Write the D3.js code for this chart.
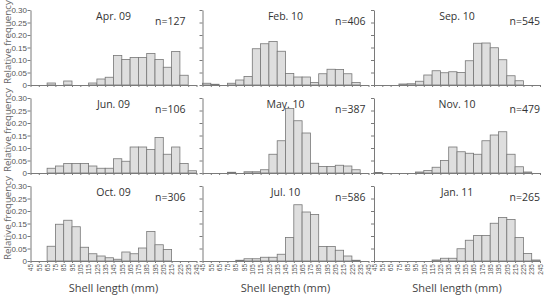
<!DOCTYPE html>
<html><head><meta charset="utf-8">
<script src="https://cdn.jsdelivr.net/npm/d3@7"></script>
<style>body{margin:0;background:#fff}svg{display:block;font-family:"Open Sans",sans-serif}</style>
</head><body><svg id="c" width="546" height="297"></svg>
<script>
// ---- data ----
const binEdges = [45,55,65,75,85,95,105,115,125,135,145,155,165,175,185,195,205,215,225,235,245];
const yTicks = [0,0.05,0.10,0.15,0.20,0.25,0.30];
const panelNames = ["Apr. 09","Feb. 10","Sep. 10","Jun. 09","May. 10","Nov. 10","Oct. 09","Jul. 10","Jan. 11"];
const panelN = [127,406,545,106,387,479,306,586,265];
const freqApr09 = [0,0,0.008,0,0.016,0,0,0.008,0.024,0.031,0.118,0.102,0.110,0.110,0.126,0.102,0.071,0.134,0.039,0];
const freqFeb10 = [0.007,0.003,0,0.007,0.020,0.034,0.145,0.165,0.174,0.135,0.046,0.032,0.032,0.010,0.045,0.063,0.062,0.045,0.010,0];
const freqSep10 = [0,0,0,0.004,0.005,0.015,0.040,0.057,0.049,0.053,0.050,0.097,0.167,0.168,0.149,0.101,0.037,0.017,0,0];
const freqJun09 = [0,0,0.019,0.028,0.038,0.038,0.038,0.028,0.019,0.019,0.057,0.047,0.104,0.104,0.094,0.142,0.075,0.104,0.038,0.009];
const freqMay10 = [0,0,0,0.003,0,0.005,0.005,0.013,0.075,0.129,0.258,0.209,0.160,0.039,0.026,0.026,0.031,0.028,0.013,0];
const freqNov10 = [0.002,0,0,0,0,0.004,0.010,0.023,0.050,0.104,0.085,0.079,0.075,0.129,0.152,0.165,0.075,0.025,0.004,0];
const freqOct09 = [0,0,0.059,0.147,0.163,0.137,0.055,0.029,0.020,0.013,0.007,0.036,0.029,0.052,0.118,0.065,0.046,0,0,0];
const freqJul10 = [0,0,0,0,0.003,0.009,0.009,0.015,0.015,0.027,0.094,0.225,0.196,0.186,0.058,0.058,0.043,0.020,0.003,0];
const freqJan11 = [0,0,0,0,0,0,0,0.004,0.011,0.011,0.049,0.083,0.102,0.102,0.151,0.174,0.166,0.094,0.030,0.004];
const panelFreq = [freqApr09,freqFeb10,freqSep10,freqJun09,freqMay10,freqNov10,freqOct09,freqJul10,freqJan11];

// ---- layout ----
const colX = [30.5, 202.5, 374];
const rowTop = [10, 98, 186];
const pw = 166, ph = 75;
const nRight = [155, 163, 166];

const svg = d3.select("#c");
const x = d3.scaleLinear().domain([45,245]).range([0,pw]);
const y = d3.scaleLinear().domain([0,0.30]).range([ph,0]);
const axisCol = "#7a7a7a";

panelNames.forEach((name,i)=>{
  const r = Math.floor(i/3), c = i%3;
  const g = svg.append("g").attr("transform",`translate(${colX[c]},${rowTop[r]})`);
  const bins = panelFreq[i].map((v,k)=>({x0:binEdges[k],x1:binEdges[k+1],v}));
  g.selectAll("rect").data(bins.filter(d=>d.v>0)).join("rect")
    .attr("x",d=>x(d.x0)).attr("width",d=>x(d.x1)-x(d.x0))
    .attr("y",d=>y(d.v)).attr("height",d=>ph-y(d.v))
    .attr("fill","#dedede").attr("stroke","#777").attr("stroke-width",0.8);

  // y axis
  const ya = d3.axisLeft(y).tickValues(yTicks).tickSize(3).tickSizeOuter(0)
    .tickFormat(c===0 ? (d=>d===0?"0":d3.format(".2f")(d)) : "");
  const yg = g.append("g").call(ya);
  yg.select(".domain").attr("stroke",axisCol);
  yg.selectAll(".tick line").attr("stroke",axisCol);
  yg.selectAll("text").attr("fill","#555").style("font-size","8px").attr("x",-3.5);

  // x axis
  const xa = d3.axisBottom(x).tickValues(binEdges).tickSize(2).tickSizeOuter(0)
    .tickFormat(r===2 ? d3.format("d") : "");
  const xg = g.append("g").attr("transform",`translate(0,${ph})`).call(xa);
  xg.select(".domain").attr("stroke",axisCol);
  xg.selectAll(".tick line").attr("stroke",axisCol);
  xg.selectAll("text").attr("fill","#555").style("font-size","6.5px")
    .attr("transform","rotate(-90)").attr("text-anchor","end")
    .attr("x",-3).attr("y",0).attr("dy","0.35em");

  g.append("text").attr("x",pw/2).attr("y",9.5).attr("text-anchor","middle")
    .style("font-size","10.5px").attr("fill","#333").text(name);
  g.append("text").attr("x",nRight[c]).attr("y",14.5).attr("text-anchor","end")
    .style("font-size","10.5px").attr("fill","#333").text("n="+panelN[i]);

  if (r===2) {
    g.append("text").attr("x",pw/2).attr("y",ph+30.5).attr("text-anchor","middle")
      .style("font-size","11px").attr("fill","#444").text("Shell length (mm)");
  }
});

// y labels, sized to fit each row
rowTop.forEach((t,r)=>{
  const bottom = t+ph;
  const tx = svg.append("text")
    .attr("transform",`translate(10.5,${bottom-1}) rotate(-90)`)
    .attr("text-anchor","start").style("font-size","10.5px").attr("fill","#666")
    .text("Relative frequency");
  const len = tx.node().getComputedTextLength();
  const maxLen = 84;
  if (len > maxLen) tx.style("font-size", (10.5*maxLen/len).toFixed(2)+"px");
});
</script></body></html>
